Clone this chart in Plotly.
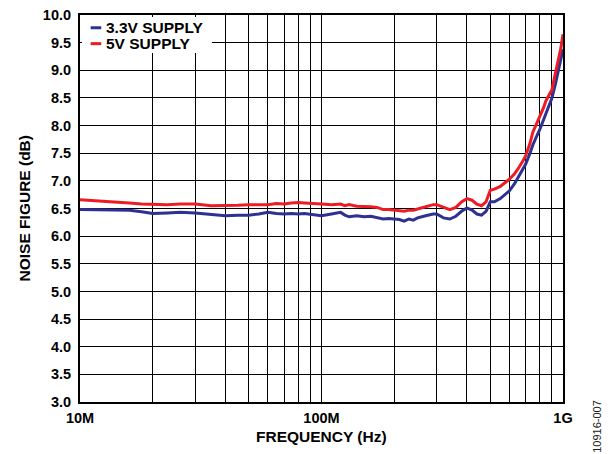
import plotly.graph_objects as go

# ---- data ----
freq_mhz = [10, 12, 14, 16, 18, 20, 23, 26, 30, 35, 40, 45, 50, 55, 60, 65, 70, 75,
            80, 85, 90, 95, 100, 110, 120, 125, 130, 140, 150, 160, 170, 180, 190,
            200, 210, 220, 230, 240, 250, 270, 290, 300, 320, 340, 360, 380, 400,
            420, 440, 460, 480, 500, 520, 550, 580, 600, 630, 650, 680, 700, 730,
            750, 780, 800, 830, 850, 880, 900, 930, 950, 980, 1000]

nf_3v3 = [6.48, 6.48, 6.48, 6.47, 6.44, 6.41, 6.42, 6.43, 6.42, 6.39, 6.37, 6.38,
          6.38, 6.40, 6.43, 6.41, 6.40, 6.41, 6.40, 6.41, 6.40, 6.38, 6.37, 6.40,
          6.43, 6.38, 6.35, 6.37, 6.35, 6.36, 6.34, 6.31, 6.32, 6.31, 6.30, 6.27,
          6.31, 6.29, 6.33, 6.37, 6.40, 6.40, 6.33, 6.31, 6.36, 6.45, 6.51, 6.47,
          6.40, 6.38, 6.45, 6.62, 6.62, 6.68, 6.76, 6.82, 6.95, 7.05, 7.20, 7.30,
          7.50, 7.65, 7.82, 7.92, 8.10, 8.22, 8.40, 8.50, 8.75, 8.92, 9.18, 9.38]

nf_5v = [6.66, 6.64, 6.62, 6.60, 6.58, 6.57, 6.57, 6.58, 6.58, 6.55, 6.55, 6.56,
         6.57, 6.57, 6.57, 6.59, 6.58, 6.60, 6.61, 6.60, 6.59, 6.58, 6.58, 6.57,
         6.58, 6.55, 6.57, 6.54, 6.54, 6.53, 6.52, 6.48, 6.48, 6.47, 6.47, 6.45,
         6.47, 6.47, 6.49, 6.53, 6.57, 6.57, 6.52, 6.48, 6.52, 6.62, 6.68, 6.65,
         6.58, 6.55, 6.62, 6.83, 6.85, 6.90, 6.98, 7.03, 7.13, 7.21, 7.35, 7.45,
         7.68, 7.88, 8.05, 8.15, 8.32, 8.45, 8.58, 8.65, 8.95, 9.12, 9.40, 9.65]

series_names = ["3.3V SUPPLY", "5V SUPPLY"]
series_colors = ["#2E3192", "#ED1C24"]

x_decades = [1e7, 1e8, 1e9]
x_decade_labels = ["10M", "100M", "1G"]
y_ticks = [3.0, 3.5, 4.0, 4.5, 5.0, 5.5, 6.0, 6.5, 7.0, 7.5, 8.0, 8.5, 9.0, 9.5, 10.0]

FONT = "Liberation Sans, Arial, Helvetica, sans-serif"

freq_hz = [f * 1e6 for f in freq_mhz]

fig = go.Figure()
for name, ys, col in zip(series_names, [nf_3v3, nf_5v], series_colors):
    fig.add_trace(go.Scatter(x=freq_hz, y=ys, mode="lines", name=name,
                             line=dict(color=col, width=3), showlegend=False))

# log grid positions: 1..9 x each decade, labels only on decades
grid_vals, grid_text = [], []
for d, lab in zip(x_decades[:-1], x_decade_labels[:-1]):
    for m in range(1, 10):
        grid_vals.append(m * d)
        grid_text.append(lab if m == 1 else "")
grid_vals.append(x_decades[-1])
grid_text.append(x_decade_labels[-1])

tick_font = dict(family=FONT, size=14.5, color="#000000", weight="bold")
title_font = dict(family=FONT, size=15.5, color="#000000", weight="bold")

fig.update_xaxes(type="log", range=[7, 9], tickvals=grid_vals, ticktext=grid_text,
                 showgrid=True, gridcolor="#000000", gridwidth=1.3,
                 showline=True, linecolor="#000000", linewidth=2, mirror=True,
                 ticks="outside", ticklen=2, tickcolor="rgba(0,0,0,0)",
                 tickfont=tick_font, zeroline=False, automargin=False)
fig.update_yaxes(range=[3, 10], tickvals=y_ticks,
                 ticktext=[f"{v:.1f}" for v in y_ticks],
                 showgrid=True, gridcolor="#000000", gridwidth=1.3,
                 showline=True, linecolor="#000000", linewidth=2, mirror=True,
                 ticks="outside", ticklen=4, tickcolor="rgba(0,0,0,0)",
                 tickfont=tick_font, zeroline=False, automargin=False)

# legend (manual, compact symbols like the original)
shapes = [dict(type="rect", xref="paper", yref="paper", x0=0.004, x1=0.273,
               y0=0.902, y1=0.995, fillcolor="white", line=dict(width=0),
               layer="above")]
annotations = []
legend_rows_y = [0.967, 0.926]
for name, col, yy in zip(series_names, series_colors, legend_rows_y):
    shapes.append(dict(type="line", xref="paper", yref="paper", x0=0.022, x1=0.044,
                       y0=yy, y1=yy, line=dict(color=col, width=3), layer="above"))
    annotations.append(dict(text=name, xref="paper", yref="paper", x=0.050, y=yy,
                            xanchor="left", yanchor="middle", showarrow=False,
                            font=dict(family=FONT, size=15.5, color="#000000",
                                      weight="bold")))

# axis titles
annotations.append(dict(text="FREQUENCY (Hz)", xref="paper", yref="paper", x=0.5,
                        y=-0.090, xanchor="center", yanchor="middle",
                        showarrow=False, font=title_font))
annotations.append(dict(text="NOISE FIGURE (dB)", xref="paper", yref="paper",
                        x=-0.114, y=0.5, textangle=-90, xanchor="center",
                        yanchor="middle", showarrow=False, font=title_font))

annotations.append(dict(text="10916-007", xref="paper", yref="paper", x=1.070,
                        y=-0.062, textangle=-90, xanchor="center", yanchor="middle",
                        showarrow=False,
                        font=dict(family=FONT, size=11, color="#222222")))

fig.update_layout(width=610, height=454, margin=dict(l=80, r=47, t=15, b=52),
                  plot_bgcolor="white", paper_bgcolor="white",
                  shapes=shapes, annotations=annotations, showlegend=False)

fig.write_html("out.html", config={"displayModeBar": False},
               post_script="document.body.style.margin='0';"
                           "document.body.style.overflow='hidden';")
